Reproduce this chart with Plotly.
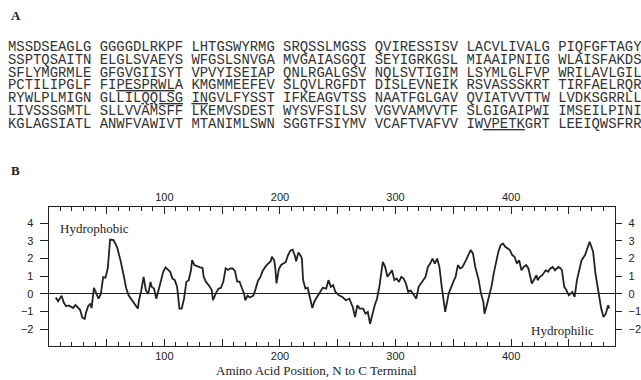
import plotly.graph_objects as go

# ---------------- data ----------------
seq_lines = [
    "MSSDSEAGLG GGGGDLRKPF LHTGSWYRMG SRQSSLMGSS QVIRESSISV LACVLIVALG PIQFGFTAGY",
    "SSPTQSAITN ELGLSVAEYS WFGSLSNVGA MVGAIASGQI SEYIGRKGSL MIAAIPNIIG WLAISFAKDS",
    "SFLYMGRMLE GFGVGIISYT VPVYISEIAP QNLRGALGSV NQLSVTIGIM LSYMLGLFVP WRILAVLGIL",
    "PCTILIPGLF FI<u>PESPRWL</u>A KMGMMEEFEV SLQVLRGFDT DISLEVNEIK RSVASSSKRT TIRFAELRQR",
    "RYWLPLMIGN GLLIL<u>QQLSG</u> <u>IN</u>GVLFYSST IFKEAGVTSS NAATFGLGAV QVIATVVTTW LVDKSGRRLL",
    "LIVSSSGMTL SLLVVAMSFF LKEMVSDEST WYSVFSILSV VGVVAMVVTF SLGIGAIPWI IMSEILPINI",
    "KGLAGSIATL ANWFVAWIVT MTANIMLSWN SGGTFSIYMV VCAFTVAFVV IW<u>VPETK</u>GRT LEEIQWSFRR",
]

position = [6, 8, 11, 13, 15, 17, 19, 21, 23, 25, 27, 29, 31, 32, 34, 36, 37, 39, 41, 43, 45,
            47, 49, 51, 53, 56, 59, 62, 65, 67, 69, 72, 75, 77, 78, 80, 82, 84, 86, 88, 89, 91, 93, 95, 97, 99,
            101, 103, 105, 107, 109, 111, 113, 115, 117, 119, 121, 123, 124, 126, 128, 131, 133, 134, 136, 139,
            141, 142, 145, 147, 149,
            151, 153, 155, 157, 159, 161, 163, 165, 167, 169, 170, 172, 174, 177, 179, 181, 183, 185, 188, 190,
            192, 193, 195, 196, 197, 199, 201, 203, 205, 207, 209, 211, 213, 214, 216, 218, 219,
            220, 222, 224, 226, 228, 230, 232, 234, 237, 240, 242, 244, 246, 248, 251, 254, 257, 260, 263, 265,
            267, 269, 272, 274, 276, 278, 280, 282, 284, 286, 289,
            291, 293, 295, 297, 299, 301, 303, 305, 307, 309, 311, 313, 315, 318, 320, 322, 324, 326, 328, 330,
            332, 334, 336, 338, 340, 342, 343, 346, 348, 350, 352, 354, 356, 358, 361, 363, 365, 367, 369, 372,
            374, 376, 377, 379, 381, 383, 385, 387, 389, 391, 393, 395, 397, 399, 401, 403, 405, 407, 409, 411,
            413, 415, 418, 420, 422, 423, 425, 427, 430, 432, 434, 436, 438, 441, 443, 444, 446, 448, 450, 453,
            455, 457, 459, 461, 464, 466, 468, 469, 471, 473, 476, 478, 480, 482, 484, 485]

hydropathy = [-0.2, -0.42, -0.1, -0.5, -0.7, -0.65, -0.72, -0.8, -0.62, -0.76, -0.9, -1.35, -1.42, -1.1,
              -0.7, -0.55, -0.8, 0.35, 0.0, -0.27, 0.0,
              0.95, 0.92, 1.45, 3.08, 3.05, 2.65, 1.9, 0.97, 0.3, -0.08, -0.36, -0.59, -0.83, -0.36, 0.2,
              0.97, 0.2, 0.0, 0.68, 0.4, 0.3, -0.27, 0.2, 0.78, 1.25,
              1.5, 1.38, 1.25, 0.87, 0.78, 0.4, -0.83, -0.83, -0.27, 0.68, 0.78, 1.34, 1.92, 1.63, 1.57,
              1.5, 1.48, 0.97, 0.68, 0.44, 0.2, -0.36, 0.1, 0.3, 0.35,
              0.7, 1.45, 1.36, 1.45, 1.44, 1.3, 0.7, 0.7, 0.4, 0.0, -0.36, -0.1, -0.2, -0.1, 0.3, 0.75,
              0.95, 1.3, 1.6, 1.75, 1.85, 2.1, 1.9, 1.44, 0.6, 1.4, 1.64, 1.72, 1.8, 2.2, 2.45, 2.5,
              2.15, 1.85, 2.35, 2.15, 2.0,
              0.8, 0.3, 0.35, -0.2, -0.8, -0.4, -0.2, 0.0, 0.35, 0.3, 0.78, 0.4, 0.49, 0.11, -0.08,
              -0.17, -0.36, -0.27, -0.74, -1.31, -0.64, -0.83, -0.83, -1.12, -1.02, -1.69, -1.12,
              -0.64, -0.27, 0.4, 1.82,
              1.53, 0.97, 1.16, 1.34, 0.78, 0.87, 0.68, 0.97, 0.87, 0.59, 0.11, 0.2, 0.02, -0.27, 0.4,
              0.59, 0.78, 0.97, 1.53, 1.72, 2.0, 1.72, 2.0, 1.53, 0.4, -0.45, -1.02, 0.02, 0.3, 0.68,
              0.97, 1.63, 1.44, 1.53, 1.91, 2.2, 2.48, 2.29, 1.53, 0.78, 0.02, -0.45, -1.12, -0.64,
              -0.17, 0.4, 1.16, 1.82, 2.39, 2.77, 2.86, 2.67, 2.58, 2.48, 2.2, 2.1, 1.72, 1.91, 1.34,
              1.53, 1.63, 1.44, 0.59, 0.87, 1.06, 0.78, 0.97, 1.06, 1.34, 1.25, 1.44, 1.53, 1.34, 1.53,
              1.44, 1.34, 0.4, 0.2, -0.08, 0.11, -0.17, 0.78, 1.44, 1.91, 2.2, 2.58, 2.95, 2.77, 2.39,
              1.16, -0.08, -0.83, -1.31, -1.12, -0.64, -0.83]

x_major = [50, 100, 150, 200, 250, 300, 350, 400, 450]
x_major_text = ["", "100", "", "200", "", "300", "", "400", ""]
x_minor = [v for v in range(10, 490, 10) if v % 50 != 0]
y_ticks = [4, 3, 2, 1, 0, -1, -2]

# ---------------- figure ----------------
W, H = 641, 380
INK = "#222222"
dom_x = [49 / W, 617 / W]
dom_y = [(H - 346) / H, (H - 206.5) / H]
xr = [0, 490]
yr = [-2.95, 4.95]

fig = go.Figure()
fig.add_trace(go.Scatter(x=position, y=hydropathy, mode="lines",
                         line=dict(color=INK, width=1.8), showlegend=False, hoverinfo="skip"))
fig.add_trace(go.Scatter(x=position[:1], y=hydropathy[:1], xaxis="x2", yaxis="y2", mode="markers",
                         marker=dict(opacity=0), showlegend=False, hoverinfo="skip"))

tickfont = dict(family="Liberation Sans, Arial, sans-serif", size=11, color=INK)
xcommon = dict(range=xr, domain=dom_x, tickmode="array", tickvals=x_major, ticktext=x_major_text,
               ticks="inside", ticklen=7, tickwidth=1.3, tickcolor=INK,
               minor=dict(tickmode="array", tickvals=x_minor, ticks="inside", ticklen=4,
                          tickwidth=1.1, tickcolor=INK, showgrid=False),
               showline=True, linecolor=INK, linewidth=1.4, showgrid=False, zeroline=False,
               tickfont=tickfont, fixedrange=True)
ycommon = dict(range=yr, domain=dom_y, tickmode="array", tickvals=y_ticks,
               ticks="outside", ticklen=8, tickwidth=1.3, tickcolor=INK, ticklabelstandoff=4,
               showline=True, linecolor=INK, linewidth=1.4, showgrid=False,
               tickfont=tickfont, fixedrange=True)

fig.update_layout(
    width=W, height=H, margin=dict(l=0, r=0, t=0, b=0),
    paper_bgcolor="white", plot_bgcolor="white",
    xaxis=dict(xcommon, side="bottom", anchor="y"),
    xaxis2=dict(xcommon, side="top", anchor="y", overlaying="x"),
    yaxis=dict(ycommon, side="left", anchor="x", zeroline=True, zerolinecolor=INK, zerolinewidth=1.3),
    yaxis2=dict(ycommon, side="right", anchor="x", overlaying="y", zeroline=False, ticklen=6),
)

mono = dict(family="Liberation Mono, Courier New, monospace", size=13.9, color="#333333")
line_y0, line_dy = 47, 12.8
for i, txt in enumerate(seq_lines):
    fig.add_annotation(x=6 / W, y=1 - (line_y0 + i * line_dy) / H, xref="paper", yref="paper",
                       xanchor="left", yanchor="middle", showarrow=False, text=txt, font=mono)

serif = "Liberation Serif, Times New Roman, serif"
fig.add_annotation(x=9 / W, y=1 - 15 / H, xref="paper", yref="paper", xanchor="left", yanchor="middle",
                   showarrow=False, text="<b>A</b>", font=dict(family=serif, size=13, color=INK))
fig.add_annotation(x=9 / W, y=1 - 171 / H, xref="paper", yref="paper", xanchor="left", yanchor="middle",
                   showarrow=False, text="<b>B</b>", font=dict(family=serif, size=13, color=INK))
fig.add_annotation(x=58 / W, y=1 - 228 / H, xref="paper", yref="paper", xanchor="left", yanchor="middle",
                   showarrow=False, text="Hydrophobic", font=dict(family=serif, size=13, color=INK))
fig.add_annotation(x=598 / W, y=1 - 330 / H, xref="paper", yref="paper", xanchor="right", yanchor="middle",
                   showarrow=False, text="Hydrophilic", font=dict(family=serif, size=13, color=INK))
fig.add_annotation(x=317 / W, y=1 - 370 / H, xref="paper", yref="paper", xanchor="center", yanchor="middle",
                   showarrow=False, text="Amino Acid Position, N to C Terminal",
                   font=dict(family=serif, size=13, color=INK))

fig.write_html("out.html", config={"displayModeBar": False},
               post_script="document.body.style.margin='0';")
